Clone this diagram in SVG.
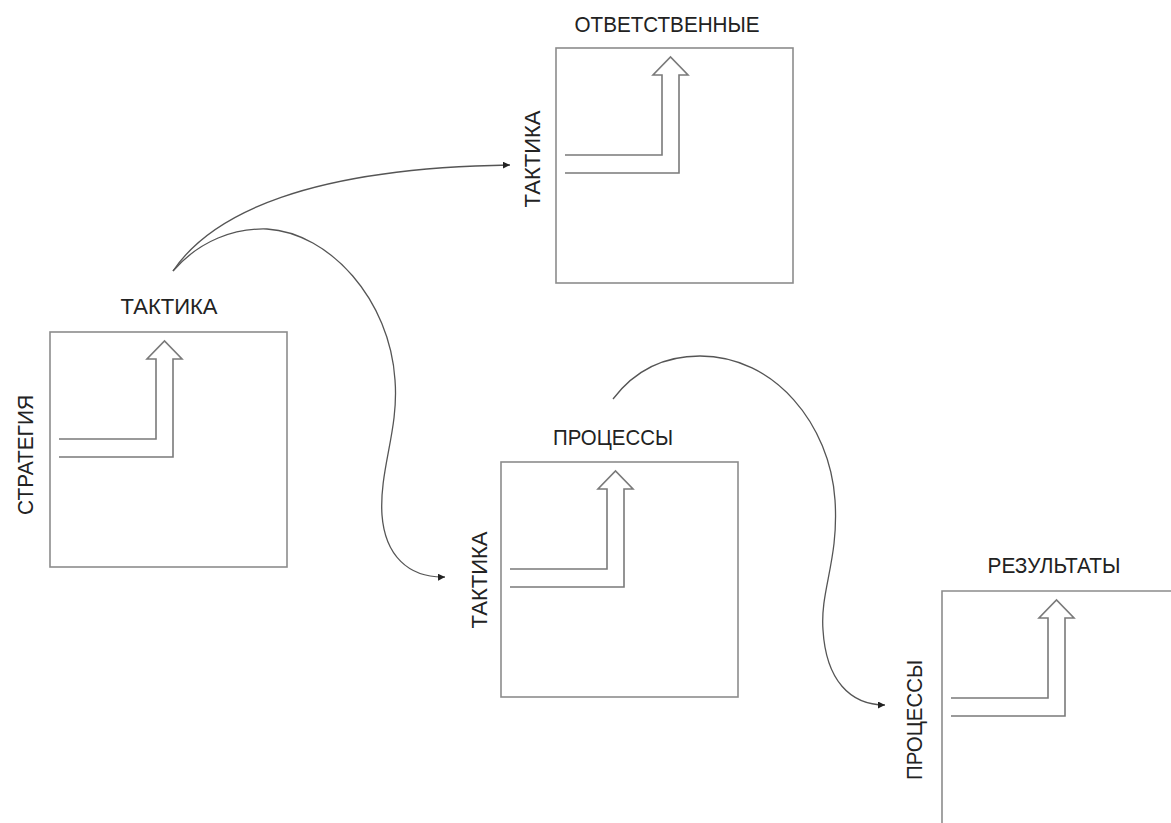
<svg xmlns="http://www.w3.org/2000/svg" xmlns:xlink="http://www.w3.org/1999/xlink" width="1171" height="823" viewBox="0 0 1171 823">
<style>
.box{fill:none;stroke:#8c8c8c;stroke-width:1.6}
.inner{fill:none;stroke:#7a7a7a;stroke-width:1.6;stroke-linejoin:miter}
.lbl{font-family:"Liberation Sans","Open Sans",Arial,sans-serif;font-size:22px;fill:#222;text-anchor:middle}
.conn{fill:none;stroke:#555;stroke-width:1.3}
</style>
<defs>
<path id="turn" d="M9,107 H106 V27 H97 L114.5,9 L132,27 H123 V125 H9"/>
<marker id="ah" markerUnits="userSpaceOnUse" markerWidth="10" markerHeight="8" refX="7" refY="3.5" orient="auto">
<path d="M0,0 L7,3.5 L0,7 Z" fill="#222"/>
</marker>
</defs>
<rect width="1171" height="823" fill="#fff"/>
<g id="node-strategy">
<rect class="box" x="50" y="332" width="237" height="235"/>
<use xlink:href="#turn" class="inner" transform="translate(50,332)"/>
<text class="lbl" x="169" y="314" textLength="97" lengthAdjust="spacingAndGlyphs">ТАКТИКА</text>
<text class="lbl" transform="translate(33,455) rotate(-90)" textLength="120" lengthAdjust="spacingAndGlyphs">СТРАТЕГИЯ</text>
</g>
<g id="node-responsible">
<rect class="box" x="556" y="48" width="237" height="235"/>
<use xlink:href="#turn" class="inner" transform="translate(556,48)"/>
<text class="lbl" x="667" y="32" textLength="185" lengthAdjust="spacingAndGlyphs">ОТВЕТСТВЕННЫЕ</text>
<text class="lbl" transform="translate(540,159) rotate(-90)" textLength="97" lengthAdjust="spacingAndGlyphs">ТАКТИКА</text>
</g>
<g id="node-processes">
<rect class="box" x="501" y="462" width="237" height="235"/>
<use xlink:href="#turn" class="inner" transform="translate(501,462)"/>
<text class="lbl" x="613" y="445" textLength="120" lengthAdjust="spacingAndGlyphs">ПРОЦЕССЫ</text>
<text class="lbl" transform="translate(487,580) rotate(-90)" textLength="97" lengthAdjust="spacingAndGlyphs">ТАКТИКА</text>
</g>
<g id="node-results">
<path class="box" d="M942,830 V591 H1180"/>
<use xlink:href="#turn" class="inner" transform="translate(942,591)"/>
<text class="lbl" x="1054" y="573" textLength="133" lengthAdjust="spacingAndGlyphs">РЕЗУЛЬТАТЫ</text>
<text class="lbl" transform="translate(922,720) rotate(-90)" textLength="120" lengthAdjust="spacingAndGlyphs">ПРОЦЕССЫ</text>
</g>
<g id="connectors">
<path class="conn" marker-end="url(#ah)" d="M173,271 C212,213 310,168 510,165"/>
<path class="conn" marker-end="url(#ah)" d="M173,271 C200,240 235,228 267,229 C330,233 390,300 395,380 C399,430 379,470 382,515 C385,555 408,578 445,577"/>
<path class="conn" marker-end="url(#ah)" d="M613,399 C635,370 665,356 700,356 C775,356 830,425 835,500 C839,560 820,590 823,630 C826,680 850,705 885,705"/>
</g>
</svg>
